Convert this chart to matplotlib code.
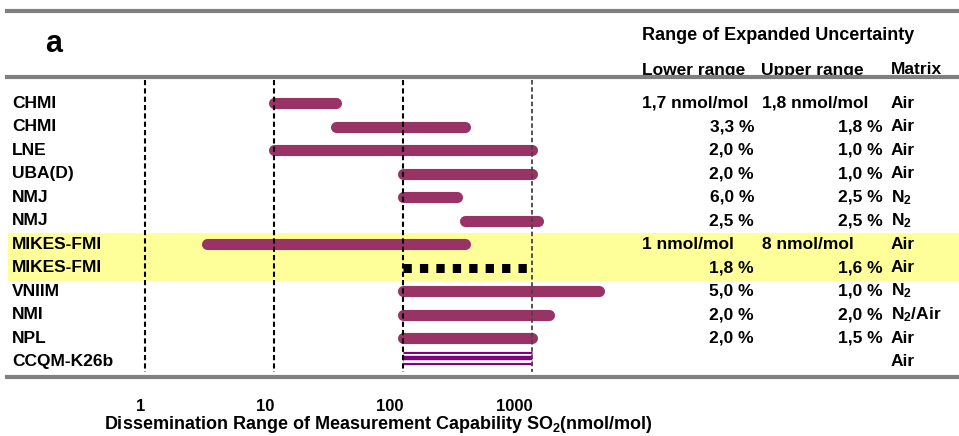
import matplotlib
matplotlib.use("Agg")
import matplotlib.pyplot as plt
from matplotlib.lines import Line2D
from matplotlib.ticker import NullLocator
from matplotlib.transforms import blended_transform_factory

plt.rcParams["font.family"] = ["Liberation Sans", "DejaVu Sans"]
plt.rcParams["font.weight"] = "bold"
plt.rcParams["mathtext.fontset"] = "custom"
plt.rcParams["mathtext.rm"] = "Liberation Sans:bold"
plt.rcParams["mathtext.bf"] = "Liberation Sans:bold"
plt.rcParams["mathtext.it"] = "Liberation Sans:bold"
plt.rcParams["mathtext.default"] = "rm"

# ---- data -------------------------------------------------------------
labs = ["CHMI", "CHMI", "LNE", "UBA(D)", "NMJ", "NMJ", "MIKES-FMI",
        "MIKES-FMI", "VNIIM", "NMI", "NPL", "CCQM-K26b"]
range_lo = [10, 30, 10, 100, 100, 300, 3, 100, 100, 100, 100, 100]
range_hi = [30, 300, 1000, 1000, 260, 1100, 300, 1000, 3300, 1350, 1000, 1000]
unc_lower = ["1,7 nmol/mol", "3,3 %", "2,0 %", "2,0 %", "6,0 %", "2,5 %",
             "1 nmol/mol", "1,8 %", "5,0 %", "2,0 %", "2,0 %", ""]
unc_upper = ["1,8 nmol/mol", "1,8 %", "1,0 %", "1,0 %", "2,5 %", "2,5 %",
             "8 nmol/mol", "1,6 %", "1,0 %", "2,0 %", "1,5 %", ""]
matrix = ["Air", "Air", "Air", "Air", "N$_2$", "N$_2$", "Air", "Air",
          "N$_2$", "N$_2$/Air", "Air", "Air"]
decades = [1, 10, 100, 1000]
decade_labels = ["1", "10", "100", "1000"]

# ---- figure -----------------------------------------------------------
W, H = 959, 436
fig = plt.figure(figsize=(W / 100, H / 100), dpi=100)


def fx(px):
    return px / W


def fy(py):
    return 1 - py / H


ax = fig.add_axes([fx(8), fy(377), fx(959) - fx(8), fy(77) - fy(377)])
ax.set_xscale("log")
dec_px, one_px = 129.1, 145.1
ax.set_xlim(10 ** ((8 - one_px) / dec_px), 10 ** ((959 - one_px) / dec_px))
ax.set_ylim(11.663, -1.13)
for s in ax.spines.values():
    s.set_visible(False)
ax.set_yticks([])
ax.xaxis.set_minor_locator(NullLocator())
ax.set_xticks(decades)
ax.set_xticklabels(decade_labels, fontsize=12, fontweight="bold", ha="right")
ax.tick_params(axis="x", length=0, pad=15.5)

bar_color = "#993366"
rows = range(len(labs))

# highlighted MIKES-FMI rows
ax.axhspan(5.52, 7.57, color="#FFFF99", zorder=0, lw=0)

for i, lo, hi in zip(rows, range_lo, range_hi):
    if labs[i] == "CCQM-K26b":
        ax.plot([lo, hi], [i - 0.16, i - 0.16], color="#800080", lw=9.5,
                solid_capstyle="butt", zorder=2)
        ax.plot([lo, hi], [i - 0.16, i - 0.16], color="white", lw=6.5,
                solid_capstyle="butt", zorder=2)
        ax.plot([lo, hi], [i - 0.16, i - 0.16], color="#800080", lw=3.2,
                solid_capstyle="butt", zorder=2)
    elif i == 7:
        ax.plot([lo, hi], [i, i], color="black", lw=6.5,
                linestyle=(0, (0.92, 0.9)), dash_capstyle="butt", zorder=2)
    else:
        ax.plot([lo, hi], [i, i], color=bar_color, lw=8,
                solid_capstyle="round", zorder=2)

# decade guide lines
ax.vlines(decades[:3], -1.0, 11.45, colors="black", lw=1.5,
          linestyles=(0, (2.5, 1.5)), zorder=3)
ax.vlines(decades[3:], -1.0, 11.45, colors="#444444", lw=1.3,
          linestyles=(0, (2.5, 1.5)), zorder=3)

# horizontal rules
for ry in (11, 77, 377):
    fig.add_artist(Line2D([fx(7), fx(959)], [fy(ry), fy(ry)], color="#808080",
                          lw=3, transform=fig.transFigure, zorder=5))

# row labels and uncertainty table
tr = blended_transform_factory(fig.transFigure, ax.transData)
fs = 12.5
for i in rows:
    ax.text(fx(12), i, labs[i], transform=tr, ha="left", va="center", fontsize=fs)
    lo_txt, hi_txt = unc_lower[i], unc_upper[i]
    if lo_txt.endswith("%"):
        ax.text(fx(754), i, lo_txt, transform=tr, ha="right", va="center", fontsize=fs)
    else:
        ax.text(fx(642), i, lo_txt, transform=tr, ha="left", va="center", fontsize=fs)
    if hi_txt.endswith("%"):
        ax.text(fx(883), i, hi_txt, transform=tr, ha="right", va="center", fontsize=fs)
    else:
        ax.text(fx(762), i, hi_txt, transform=tr, ha="left", va="center", fontsize=fs)
    ax.text(fx(891), i, matrix[i], transform=tr, ha="left", va="center", fontsize=fs)

# headers
fig.text(fx(45), fy(44), "a", ha="left", va="center", fontsize=22, fontweight="bold")
fig.text(fx(642), fy(35), "Range of Expanded Uncertainty", ha="left", va="center", fontsize=13)
fig.text(fx(642), fy(70), "Lower range", ha="left", va="center", fontsize=fs)
fig.text(fx(761), fy(70), "Upper range", ha="left", va="center", fontsize=fs)
fig.text(fx(891), fy(70), "Matrix", ha="left", va="center", fontsize=fs)

fig.text(fx(378.5), fy(424),
         "Dissemination Range of Measurement Capability SO$_2$(nmol/mol)",
         ha="center", va="center", fontsize=13)

fig.savefig("out.png", dpi=100)
